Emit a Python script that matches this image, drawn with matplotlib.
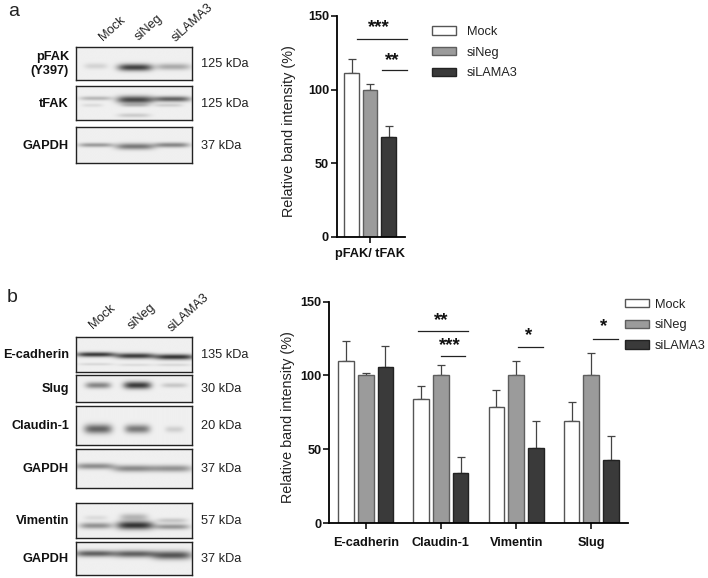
#!/usr/bin/env python3
"""Two-panel western blot figure with band intensity bar charts."""
import numpy as np
import matplotlib
matplotlib.use("Agg")
import matplotlib.pyplot as plt
from matplotlib.patches import Patch
from matplotlib.transforms import ScaledTranslation

plt.rcParams.update({"font.family": ["Liberation Sans", "DejaVu Sans"],
                     "font.size": 9})

W, H = 708, 578

conditions = ["Mock", "siNeg", "siLAMA3"]
colors = ["white", "#9b9b9b", "#3a3a3a"]
edges = ["#555555", "#5e5e5e", "#222222"]

# panel a
a_group = ["pFAK/ tFAK"]
a_means = [[111], [99.5], [68]]
a_tops = [[120.6], [104], [75]]

# panel b
b_groups = ["E-cadherin", "Claudin-1", "Vimentin", "Slug"]
b_means = [[110, 84, 78.5, 69], [100, 100, 100, 100], [106, 34, 51, 43]]
b_tops = [[123.5, 93, 90, 82], [102, 107, 109.5, 115], [120, 45, 69, 59]]

# blots: name, kDa label, box (left, top, right, bottom px), bands
# bands: x centre, y centre, half width, half height, darkness (box fractions)
a_blots = [
    ("pFAK\n(Y397)", "125 kDa", (76, 47, 192, 80),
     [(0.17, 0.58, 0.10, 0.09, 0.14), (0.51, 0.62, 0.15, 0.11, 0.85),
      (0.84, 0.60, 0.15, 0.10, 0.34)]),
    ("tFAK", "125 kDa", (76, 86, 192, 120),
     [(0.17, 0.38, 0.14, 0.06, 0.28), (0.51, 0.42, 0.16, 0.11, 0.82),
      (0.83, 0.40, 0.16, 0.08, 0.70), (0.14, 0.58, 0.09, 0.05, 0.10),
      (0.50, 0.87, 0.14, 0.06, 0.18), (0.51, 0.58, 0.12, 0.05, 0.22),
      (0.80, 0.58, 0.12, 0.05, 0.16)]),
    ("GAPDH", "37 kDa", (76, 127, 192, 163),
     [(0.17, 0.50, 0.15, 0.06, 0.42), (0.51, 0.54, 0.17, 0.09, 0.58),
      (0.83, 0.50, 0.15, 0.07, 0.52)]),
]
b_blots = [
    ("E-cadherin", "135 kDa", (76, 337, 192, 372),
     [(0.17, 0.50, 0.17, 0.07, 0.90), (0.51, 0.54, 0.17, 0.08, 0.88),
      (0.85, 0.57, 0.17, 0.08, 0.92), (0.17, 0.78, 0.15, 0.04, 0.12),
      (0.51, 0.80, 0.15, 0.04, 0.10), (0.84, 0.80, 0.15, 0.04, 0.12)]),
    ("Slug", "30 kDa", (76, 375, 192, 402),
     [(0.19, 0.38, 0.11, 0.12, 0.52), (0.53, 0.38, 0.12, 0.14, 0.88),
      (0.85, 0.38, 0.11, 0.09, 0.20)]),
    ("Claudin-1", "20 kDa", (76, 406, 192, 445),
     [(0.19, 0.60, 0.12, 0.12, 0.68), (0.53, 0.60, 0.11, 0.11, 0.58),
      (0.85, 0.61, 0.08, 0.08, 0.16)]),
    ("GAPDH", "37 kDa", (76, 449, 192, 488),
     [(0.16, 0.44, 0.17, 0.08, 0.48), (0.50, 0.50, 0.18, 0.09, 0.50),
      (0.83, 0.50, 0.17, 0.09, 0.46)]),
    ("Vimentin", "57 kDa", (76, 503, 192, 538),
     [(0.17, 0.65, 0.14, 0.09, 0.46), (0.51, 0.64, 0.16, 0.12, 0.92),
      (0.83, 0.68, 0.15, 0.08, 0.44), (0.50, 0.40, 0.12, 0.10, 0.28),
      (0.83, 0.50, 0.13, 0.07, 0.20), (0.17, 0.42, 0.10, 0.07, 0.10)]),
    ("GAPDH", "37 kDa", (76, 542, 192, 575),
     [(0.16, 0.35, 0.17, 0.10, 0.70), (0.50, 0.36, 0.18, 0.11, 0.70),
      (0.83, 0.40, 0.17, 0.13, 0.76)]),
]

# rotated lane labels: pixel centre of each
a_lanes = [(112, 29), (149, 28), (192, 23)]
b_lanes = [(102, 317), (142, 317), (188, 313)]

# significance: x0, x1, y value, stars, star x, star y (data coords)
a_sig = [(-0.70, 1.99, 134.5, "***", 0.49, 142),
         (0.65, 1.99, 113, "**", 1.20, 120)]
b_sig = [(0.70, 1.36, 130, "**", 1.0, 137),
         (1.00, 1.32, 113.5, "***", 1.12, 120.5),
         (2.03, 2.36, 119, "*", 2.17, 127),
         (3.02, 3.35, 125, "*", 3.16, 133)]


def px_axes(left, top, right, bottom):
    return fig.add_axes([left / W, 1 - bottom / H, (right - left) / W, (bottom - top) / H])


def draw_blot(name, kda, box, bands):
    ax = px_axes(*box)
    yy, xx = np.mgrid[0:1:120j, 0:1:240j]
    img = np.full(xx.shape, 0.94)
    for cx, cy, hw, hh, dark in bands:
        img -= 0.8 * dark * np.exp(-((xx - cx) / hw) ** 4 - ((yy - cy) / hh) ** 2)
    ax.imshow(np.clip(img, 0.05, 1), cmap="gray", vmin=0, vmax=1, aspect="auto",
              extent=(0, 1, 1, 0), interpolation="bilinear")
    ax.set_xticks([]); ax.set_yticks([])
    for s in ax.spines.values():
        s.set_linewidth(1.0); s.set_color("#222222")
    mid = 1 - ((box[1] + box[3]) / 2 + 0.8) / H
    fig.text(69 / W, mid, name, ha="right", va="center", fontweight="bold",
             fontsize=9.2, color="#111111", linespacing=1.25)
    fig.text(201 / W, mid, kda, ha="left", va="center", fontsize=9.2, color="#222222")


def draw_bars(ax, groups, means, tops, xlim, step, width, label_x):
    x = np.arange(len(groups))
    offset = [-step, 0, step]
    for i in range(3):
        ax.bar(x + offset[i], means[i], width, color=colors[i], edgecolor=edges[i],
               linewidth=1.0, zorder=2)
        err = np.array(tops[i]) - np.array(means[i])
        ax.errorbar(x + offset[i], means[i], yerr=[np.zeros(len(err)), err], fmt="none",
                    ecolor="#444444", elinewidth=0.9, capsize=2.8, capthick=0.9, zorder=1)
    ax.set_xlim(*xlim); ax.set_ylim(0, 150)
    ax.set_xticks(x, groups, fontweight="bold", fontsize=9.2)
    ax.set_yticks([0, 50, 100, 150])
    for lab in ax.get_yticklabels():
        lab.set_fontweight("bold")
    ax.tick_params(axis="both", width=1.2, length=4, labelsize=9.2, pad=1.5, color="#111111",
                   labelcolor="#111111")
    ax.tick_params(axis="x", pad=6)
    ax.spines[["top", "right"]].set_visible(False)
    ax.spines[["left", "bottom"]].set_linewidth(1.3)
    ax.set_ylabel("Relative band intensity (%)", fontsize=10.4, color="#222222")
    ax.yaxis.set_label_coords(label_x, 0.48)


def draw_sig(ax, sig):
    for x0, x1, y, stars, sx, sy in sig:
        ax.plot([x0, x1], [y, y], color="#222222", lw=0.9, clip_on=False, zorder=4)
        ax.text(sx, sy, stars, ha="center", va="center", fontweight="bold", fontsize=13.5,
                color="#111111")


fig = plt.figure(figsize=(W / 100, H / 100), dpi=100, facecolor="white")

fig.text(8 / W, 1 - 12 / H, "a", fontsize=14, ha="left", va="center", color="#222222")
fig.text(7 / W, 1 - 297 / H, "b", fontsize=14, ha="left", va="center", color="#222222")

for blot in a_blots + b_blots:
    draw_blot(*blot)
for cond, (px, py) in zip(conditions, a_lanes):
    fig.text(px / W, 1 - py / H, cond, rotation=42, ha="center", va="center",
             fontsize=9.2, color="#222222", rotation_mode="anchor")
for cond, (px, py) in zip(conditions, b_lanes):
    fig.text(px / W, 1 - py / H, cond, rotation=42, ha="center", va="center",
             fontsize=9.2, color="#222222", rotation_mode="anchor")

ax_a = px_axes(336.7, 16, 405, 236.7)
draw_bars(ax_a, a_group, a_means, a_tops, (-1.8, 1.89), 1.0, 0.8, -0.597)
draw_sig(ax_a, a_sig)
# the group label sits a little right of its tick
for lab in ax_a.get_xticklabels():
    lab.set_transform(lab.get_transform() + ScaledTranslation(2.5 / 100, 0, fig.dpi_scale_trans))
ax_a.tick_params(axis="x", pad=4)

ax_b = px_axes(329, 301.7, 628, 523)
draw_bars(ax_b, b_groups, b_means, b_tops, (-0.488, 3.488), 0.262, 0.208, -0.115)
draw_sig(ax_b, b_sig)

handles = [Patch(facecolor=c, edgecolor=e, linewidth=1.0, label=n)
           for c, e, n in zip(colors, edges, conditions)]
fig.legend(handles=handles, loc="upper left", bbox_to_anchor=(432 / W, 1 - 26 / H),
           frameon=False, fontsize=9.2, handlelength=1.9, handleheight=0.62,
           labelspacing=0.68, handletextpad=0.8, borderpad=0, borderaxespad=0,
           labelcolor="#222222")
fig.legend(handles=handles, loc="upper left", bbox_to_anchor=(625 / W, 1 - 298.5 / H),
           frameon=False, fontsize=9.2, handlelength=1.9, handleheight=0.62,
           labelspacing=0.68, handletextpad=0.45, borderpad=0, borderaxespad=0,
           labelcolor="#222222")

fig.savefig("out.png", dpi=100, facecolor="white")
